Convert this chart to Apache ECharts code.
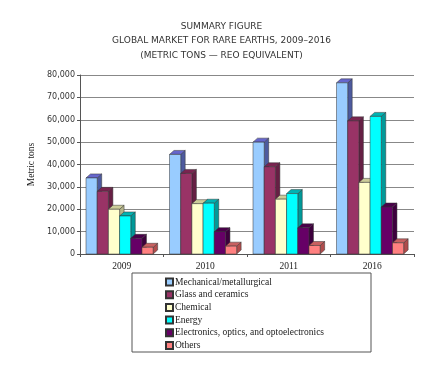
<!DOCTYPE html>
<html><head><meta charset="utf-8">
<script src="https://cdn.jsdelivr.net/npm/echarts@6/dist/echarts.min.js"></script>
<style>html,body{margin:0;padding:0;background:#fff}#c{width:443px;height:374px}</style>
</head><body><div id="c"></div>
<script>
const categories = ['2009', '2010', '2011', '2016'];
const seriesNames = ['Mechanical/metallurgical', 'Glass and ceramics', 'Chemical', 'Energy', 'Electronics, optics, and optoelectronics', 'Others'];
const mechanical = [34000, 44500, 50000, 76500];
const glass = [28000, 36000, 39000, 59500];
const chemical = [20000, 22500, 24500, 32000];
const energy = [17000, 22700, 27000, 61500];
const electronics = [7000, 10000, 11700, 21000];
const others = [3000, 3500, 3800, 5000];
const yTicks = ['0', '10,000', '20,000', '30,000', '40,000', '50,000', '60,000', '70,000', '80,000'];

const allValues = [mechanical, glass, chemical, energy, electronics, others];
const fronts = ['#99ccff', '#993366', '#ffffcc', '#00ffff', '#660066', '#ff8080'];
const tops = ['#6666cc', '#7a2450', '#cccc99', '#00b3b3', '#4a004a', '#c86060'];
const sides = ['#4d5a9e', '#661f44', '#b3b38a', '#009999', '#3d003d', '#b04c4c'];

function renderItem(params, api) {
  const s = params.seriesIndex;
  const cat = api.value(0), val = api.value(1);
  const base = api.coord([cat, 0]);
  const top = api.coord([cat, val]);
  const band = api.size([1, 0])[0];
  const bw = band * 0.134;
  const x0 = base[0] - band / 2 + band * 0.072 + s * bw;
  const dx = 4.5, dy = 4;
  const y1 = top[1], y0 = base[1];
  const stroke = '#333';
  return {
    type: 'group',
    children: [
      { type: 'polygon', shape: { points: [[x0 + bw, y1], [x0 + bw + dx, y1 - dy], [x0 + bw + dx, y0 - dy], [x0 + bw, y0]] },
        style: { fill: sides[s], stroke: stroke, lineWidth: 0.5 } },
      { type: 'polygon', shape: { points: [[x0, y1], [x0 + dx, y1 - dy], [x0 + bw + dx, y1 - dy], [x0 + bw, y1]] },
        style: { fill: tops[s], stroke: stroke, lineWidth: 0.5 } },
      { type: 'rect', shape: { x: x0, y: y1, width: bw, height: y0 - y1 },
        style: { fill: fronts[s], stroke: stroke, lineWidth: 0.5 } }
    ]
  };
}

const series = seriesNames.map((name, i) => ({
  name: name,
  type: 'custom',
  renderItem: renderItem,
  itemStyle: { color: fronts[i], borderColor: '#333', borderWidth: 0.5 },
  encode: { x: 0, y: 1 },
  data: allValues[i].map((v, j) => [j, v])
}));

const chart = echarts.init(document.getElementById('c'), null, { renderer: 'canvas' });
chart.setOption({
  animation: false,
  backgroundColor: '#fff',
  title: {
    text: 'SUMMARY FIGURE\nGLOBAL MARKET FOR RARE EARTHS, 2009–2016\n(METRIC TONS — REO EQUIVALENT)',
    left: 'center', top: 14,
    textStyle: { fontFamily: 'DejaVu Sans', fontSize: 9, fontWeight: 'normal', color: '#333', lineHeight: 14.5 }
  },
  grid: { left: 80, right: 29, top: 75, bottom: 120 },
  xAxis: {
    type: 'category', data: categories,
    axisLine: { lineStyle: { color: '#555' } },
    axisTick: { show: true, alignWithLabel: false, length: 3, lineStyle: { color: '#555' } },
    axisLabel: { fontFamily: 'Liberation Serif', fontSize: 9.5, color: '#222', margin: 7 }
  },
  yAxis: {
    type: 'value', min: 0, max: 80000, interval: 10000,
    name: 'Metric tons', nameLocation: 'middle', nameGap: 44, nameRotate: 90,
    nameTextStyle: { fontFamily: 'Liberation Serif', fontSize: 9.5, color: '#222' },
    axisLine: { show: true, lineStyle: { color: '#555' } },
    axisTick: { show: true, length: 3, lineStyle: { color: '#555' } },
    splitLine: { lineStyle: { color: '#888', width: 1 } },
    axisLabel: { fontFamily: 'DejaVu Sans', fontSize: 8, color: '#333', margin: 5,
      formatter: (v) => yTicks[Math.round(v / 10000)] }
  },
  legend: {
    orient: 'vertical', left: 160, top: 272, itemGap: 2.7,
    itemWidth: 7, itemHeight: 7, icon: 'rect',
    textStyle: { fontFamily: 'Liberation Serif', fontSize: 9.5, color: '#222', padding: [0, 0, 0, -3] },
    data: seriesNames
  },
  graphic: [
    { type: 'rect', shape: { x: 132, y: 273, width: 239, height: 79 },
      style: { fill: 'none', stroke: '#555', lineWidth: 1 }, z: -1 }
  ],
  series: series
});
</script>
</body></html>
